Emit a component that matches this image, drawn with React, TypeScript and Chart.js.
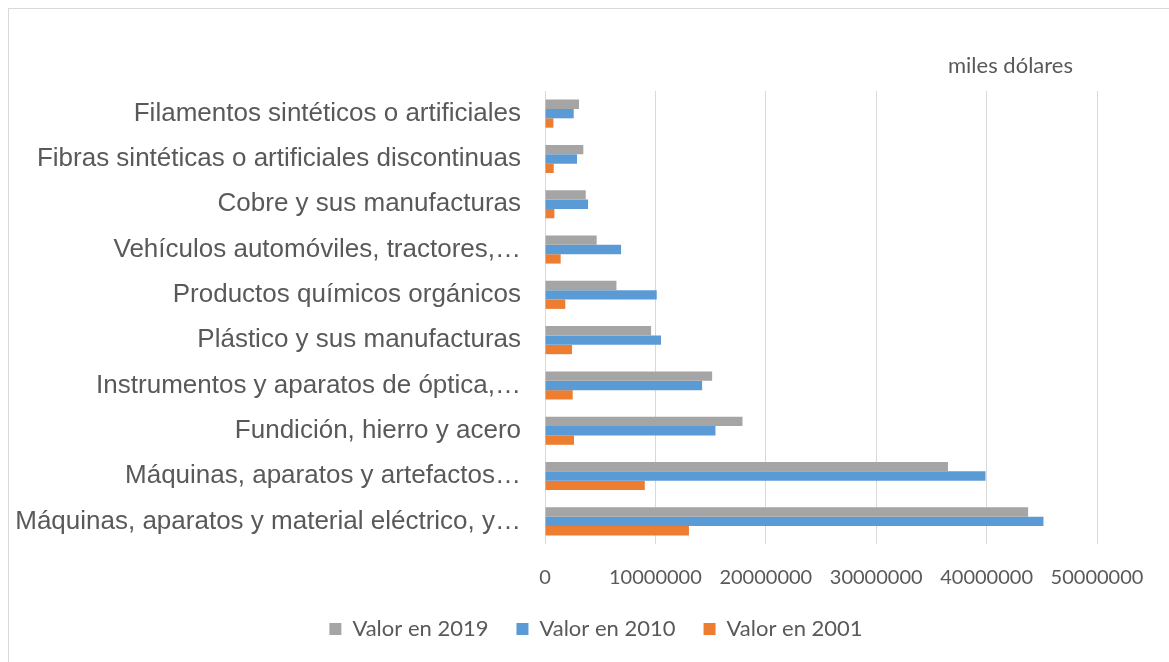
import React, { useEffect, useRef } from "react";
import { Chart, registerables } from "chart.js";

Chart.register(...registerables);

// Categories, listed top to bottom as in the chart
const categories = [
  "Filamentos sintéticos o artificiales",
  "Fibras sintéticas o artificiales discontinuas",
  "Cobre y sus manufacturas",
  "Vehículos automóviles, tractores,…",
  "Productos químicos orgánicos",
  "Plástico y sus manufacturas",
  "Instrumentos y aparatos de óptica,…",
  "Fundición, hierro y acero",
  "Máquinas, aparatos y artefactos…",
  "Máquinas, aparatos y material eléctrico, y…",
];

const values2019 = [3080000, 3470000, 3690000, 4680000, 6470000, 9610000, 15140000, 17890000, 36500000, 43760000];
const values2010 = [2600000, 2900000, 3900000, 6890000, 10120000, 10510000, 14230000, 15440000, 39900000, 45150000];
const values2001 = [760000, 790000, 850000, 1420000, 1840000, 2450000, 2510000, 2630000, 9040000, 13040000];

const seriesNames = ["Valor en 2019", "Valor en 2010", "Valor en 2001"];
const seriesColors = ["#A5A5A5", "#5B9BD5", "#ED7D31"];
const xTickValues = [0, 10000000, 20000000, 30000000, 40000000, 50000000];
const unitLabel = "miles dólares";

// shifts the legend horizontally so it is centred like the reference
const legendShift = {
  id: "legendShift",
  afterLayout(chart: any) {
    const lg = chart.legend;
    if (lg) {
      lg.left += 43;
      lg.right += 43;
    }
  },
};

export default function App() {
  const canvasRef = useRef<HTMLCanvasElement>(null);

  useEffect(() => {
    const canvas = canvasRef.current;
    if (!canvas) return;
    const chart = new Chart(canvas, {
      type: "bar",
      data: {
        labels: categories,
        datasets: [
          { label: seriesNames[0], data: values2019, backgroundColor: seriesColors[0] },
          { label: seriesNames[1], data: values2010, backgroundColor: seriesColors[1] },
          { label: seriesNames[2], data: values2001, backgroundColor: seriesColors[2] },
        ],
      },
      plugins: [legendShift],
      options: {
        indexAxis: "y",
        responsive: false,
        animation: false,
        layout: { padding: { left: 0, right: 72, top: 82, bottom: 12 } },
        datasets: { bar: { categoryPercentage: 0.62, barPercentage: 1 } },
        scales: {
          x: {
            min: 0,
            max: xTickValues[xTickValues.length - 1],
            afterBuildTicks: (s: any) => {
              s.ticks = xTickValues.map((v) => ({ value: v }));
            },
            afterFit: (s: any) => {
              s.height = 46;
            },
            grid: { color: "#D9D9D9", lineWidth: 1, drawTicks: false },
            border: { display: false },
            ticks: {
              padding: 22,
              color: "#595959",
              font: { family: "Lato", size: 20 },
              callback: (v: any) => String(v),
            },
          },
          y: {
            afterFit: (s: any) => {
              s.width = 536;
            },
            grid: { display: false, drawTicks: false },
            border: { display: false },
            ticks: {
              padding: 24,
              autoSkip: false,
              color: "#595959",
              font: { family: "'Liberation Sans', Arial, sans-serif", size: 26 },
            },
          },
        },
        plugins: {
          legend: {
            position: "bottom",
            labels: {
              boxWidth: 12,
              boxHeight: 12,
              padding: 28,
              color: "#595959",
              font: { family: "Lato", size: 22 },
            },
          },
          tooltip: { enabled: false },
        },
      },
    });
    return () => chart.destroy();
  }, []);

  return (
    <div
      style={{
        position: "fixed",
        left: 8,
        top: 8,
        width: 1175,
        height: 665,
        border: "1px solid #D9D9D9",
        background: "#fff",
      }}
    >
      <canvas ref={canvasRef} width={1160} height={653} style={{ display: "block" }} />
      <div
        style={{
          position: "absolute",
          left: 939,
          top: 45,
          fontFamily: "Lato, sans-serif",
          fontSize: 22,
          lineHeight: "22px",
          color: "#595959",
          whiteSpace: "nowrap",
        }}
      >
        {unitLabel}
      </div>
    </div>
  );
}
